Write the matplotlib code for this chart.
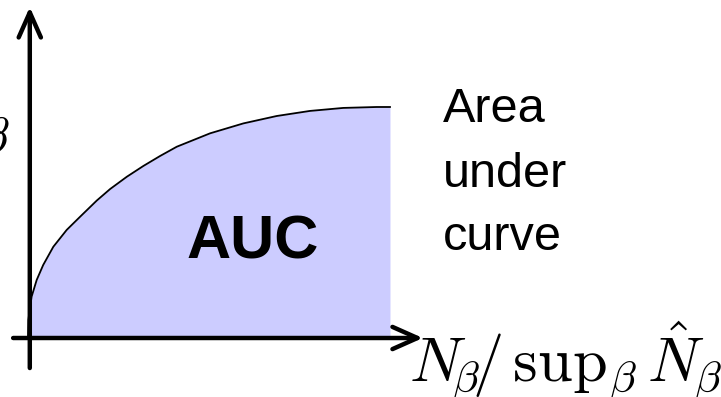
import matplotlib
matplotlib.use("Agg")
import matplotlib.pyplot as plt

plt.rcParams['mathtext.fontset'] = 'cm'

# curve: fraction of N (x) against normalised value (y)
curve_x = [0.0, 0.001, 0.010, 0.024, 0.042, 0.070, 0.107, 0.144, 0.190, 0.227,
           0.273, 0.319, 0.365, 0.411, 0.503, 0.595, 0.687, 0.779, 0.871, 0.963, 1.0]
curve_y = [0.0, 0.078, 0.179, 0.251, 0.316, 0.395, 0.468, 0.525, 0.595, 0.645,
           0.698, 0.745, 0.788, 0.828, 0.886, 0.929, 0.961, 0.983, 0.996, 1.0, 1.0]

fill_color = '#ccccff'

fig = plt.figure(figsize=(7.21, 3.97), dpi=100)
ax = fig.add_axes([0, 0, 1, 1])
ax.set_xlim(-0.0773, 1.9144)
ax.set_ylim(-0.2554, 1.4632)
ax.set_axis_off()

# area under curve
ax.fill_between(curve_x, curve_y, 0, color=fill_color, lw=0, zorder=1)
ax.plot(curve_x, curve_y, color='black', lw=1.3, solid_joinstyle='round', zorder=2)

# axes arrows
arrow = dict(arrowstyle='->,head_length=18,head_width=8', mutation_scale=1,
             lw=3.2, color='black', capstyle='round', joinstyle='round',
             shrinkA=0, shrinkB=0)
ax.annotate('', xy=(0.005, 1.433), xytext=(0.005, -0.13), arrowprops=arrow, zorder=3)
ax.annotate('', xy=(1.091, 0.0), xytext=(-0.041, 0.0), arrowprops=arrow, zorder=3)

# labels
ax.text(0.622, 0.411, 'AUC', fontsize=44, fontweight='bold',
        family='Liberation Sans', ha='center', va='center', zorder=4)

for txt, yb in zip(['Area', 'under', 'curve'], [0.935, 0.654, 0.381]):
    ax.text(1.146, yb, txt, fontsize=35, family='Liberation Sans',
            ha='left', va='baseline')

ax.text(1.052, -0.186, r'$N_{\!\beta}\!/\,\mathrm{sup}_{\beta}\,\hat{N}_{\!\beta}$',
        fontsize=45, ha='left', va='baseline')

# cut-off y label at left edge
ax.text(-0.052, 0.80, r'$\beta$', fontsize=36, ha='right', va='baseline')

fig.savefig('out.png', dpi=100)
